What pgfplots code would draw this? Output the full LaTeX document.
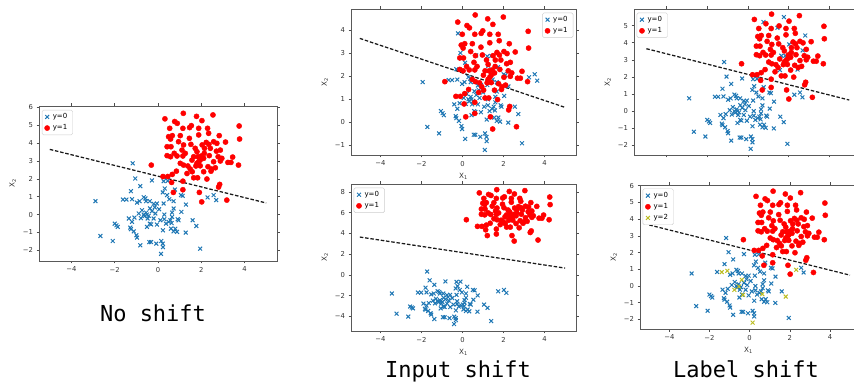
\documentclass[border=0pt]{standalone}
\usepackage{fontspec}
\setmainfont{DejaVu Sans}
\newfontfamily\monofont{DejaVu Sans Mono}
\usepackage{pgfplots}
\pgfplotsset{compat=1.18}
\definecolor{cblue}{RGB}{31,119,180}
\definecolor{colive}{RGB}{188,189,34}
\pgfplotsset{
  base/.style={
    scale only axis,
    axis line style={black!65, line width=0.7pt},
    tick align=outside,
    major tick length=2.5pt,
    tick style={black!70, line width=0.5pt},
    ticklabel style={font=\fontsize{6.8}{7}\selectfont, text=black!80},
    label style={font=\fontsize{7.2}{8}\selectfont, text=black!80},
    xtick={-4,-2,0,2,4},
    xticklabels={−4,−2,0,2,4},
    legend style={font=\fontsize{7}{8}\selectfont, draw=black!20, rounded corners=1.5pt, inner xsep=2.5pt, inner ysep=1.5pt, row sep=0.5pt, nodes={inner xsep=3pt}},
    legend cell align=left,
  },
  c0/.style={only marks, mark=x, mark size=2.7pt, cblue, line width=1pt},
  c1/.style={only marks, mark=*, mark size=2.6pt, red, draw=red},
  c2/.style={only marks, mark=x, mark size=2.7pt, colive, line width=1pt},
  dline/.style={black!90, line width=1.25pt, dash pattern=on 3.5pt off 1.8pt, forget plot},
}
\begin{document}
\begin{tikzpicture}
\path[use as bounding box] (0,0) rectangle (854pt,385pt);

% ---------- No shift ----------
\begin{axis}[base, at={(39pt,279pt)}, anchor=north west, width=238pt, height=155pt,
  xmin=-5.5, xmax=5.5, ymin=-2.6, ymax=6.08,
  ytick={-2,-1,0,1,2,3,4,5,6}, yticklabels={−2,−1,0,1,2,3,4,5,6},
  ylabel={X\textsubscript{2}},
  legend style={at={(0.012,0.975)}, anchor=north west}]
\addplot[c0] coordinates {(-2.89,0.75)(-2.66,-1.20)(-2.09,-1.48)(-2.00,-0.51)(-1.92,-0.60)(-1.86,-0.69)(-1.17,2.87)(-1.05,2.02)(-0.82,1.59)(-1.25,1.31)(-1.20,0.86)(-1.62,0.84)(-1.46,0.84)(-0.97,0.67)(-0.85,0.75)(-0.66,0.97)(-0.58,0.90)(-0.55,0.75)(-0.38,0.75)(-0.28,1.91)(-0.20,0.60)(-0.05,0.62)(0.22,1.24)(0.31,1.46)(0.26,0.62)(0.42,1.09)(0.52,0.86)(0.72,0.75)(0.78,1.40)(1.06,1.09)(1.14,1.05)(1.29,0.56)(0.26,1.87)(0.45,1.89)(2.29,0.96)(2.57,1.09)(2.69,0.81)(-1.35,-0.22)(-1.20,-0.41)(-1.28,-0.73)(-1.25,-0.82)(-1.12,-0.94)(-1.00,-1.16)(-0.97,-1.29)(-0.82,-1.72)(-1.09,-0.17)(-0.89,0.06)(-0.74,0.24)(-0.79,-0.20)(-0.66,0.00)(-0.62,-0.09)(-0.55,0.11)(-0.51,0.00)(-0.43,-0.07)(-0.37,0.35)(-0.28,0.19)(-0.48,-0.22)(-0.38,-0.51)(-0.51,-0.69)(-0.32,-0.55)(-0.12,0.06)(-0.05,-0.56)(-0.40,-1.54)(-0.32,-1.54)(-0.08,-1.63)(0.15,-1.48)(0.22,-1.63)(0.23,-1.82)(0.14,-2.20)(0.11,-0.32)(0.23,-0.88)(0.29,0.00)(0.29,-0.26)(0.37,-0.51)(0.63,-0.48)(0.60,-0.79)(0.57,-0.32)(0.65,0.11)(0.65,-0.13)(0.72,-0.94)(0.80,-0.79)(0.88,-0.97)(0.91,-0.26)(0.95,-0.32)(1.08,0.15)(0.72,0.34)(1.28,-1.01)(1.60,-0.32)(1.77,-0.64)(1.95,-1.91)(-0.20,-0.22)(0.49,-0.41)(-0.15,0.40)(0.05,0.30)};
\addlegendentry{y=0}
\addplot[c1] coordinates {(1.17,5.67)(2.54,5.58)(0.32,5.36)(0.77,5.21)(0.89,5.11)(1.54,4.98)(1.46,4.87)(1.78,5.50)(2.03,5.26)(1.15,4.83)(3.75,4.96)(3.77,4.23)(0.54,4.83)(0.49,4.36)(0.66,4.42)(0.58,4.23)(1.03,4.42)(1.45,4.27)(1.88,4.83)(1.88,4.46)(2.29,4.83)(2.34,4.55)(2.83,4.42)(2.23,4.04)(2.35,3.93)(2.57,4.08)(2.72,3.99)(3.12,4.06)(0.42,3.80)(0.60,3.80)(1.18,3.90)(1.52,3.93)(2.04,3.90)(2.15,3.71)(2.42,3.71)(2.70,3.55)(2.88,3.61)(1.11,3.61)(0.75,3.43)(0.42,3.30)(0.58,3.24)(0.88,3.28)(1.15,3.28)(1.65,3.24)(1.85,3.24)(1.95,3.05)(2.00,3.28)(1.80,2.87)(1.88,2.96)(2.11,3.15)(2.37,3.30)(2.78,3.24)(2.95,3.15)(2.88,3.00)(3.45,3.22)(3.37,2.92)(3.23,2.92)(3.72,2.77)(-0.31,2.77)(1.03,2.87)(1.18,2.77)(1.38,2.72)(1.49,2.55)(1.58,2.40)(1.75,2.72)(1.95,2.73)(2.31,2.68)(2.48,2.55)(2.65,2.62)(2.45,2.43)(0.85,2.43)(0.66,2.25)(0.45,2.13)(0.23,2.13)(1.65,2.06)(1.83,2.06)(2.26,1.99)(2.85,1.69)(2.80,1.54)(1.15,1.87)(0.63,1.80)(1.15,1.39)(0.71,1.24)(1.91,1.24)(2.02,0.71)(3.18,0.81)(1.26,3.43)(2.14,3.43)(1.72,3.71)(1.34,2.30)(2.11,2.40)(1.80,3.52)(2.57,2.96)(1.57,3.05)(0.95,4.08)};
\addlegendentry{y=1}
\addplot[dline] coordinates {(-5,3.65)(5,0.65)};
\end{axis}

% ---------- Input shift (top) ----------
\begin{axis}[base, at={(351pt,376pt)}, anchor=north west, width=225pt, height=146pt,
  xmin=-5.43, xmax=5.53, ymin=-1.42, ymax=4.93,
  ytick={-1,0,1,2,3,4}, yticklabels={−1,0,1,2,3,4},
  xlabel={X\textsubscript{1}}, ylabel={X\textsubscript{2}},
  legend style={at={(0.988,0.975)}, anchor=north east}]
\addplot[c0] coordinates {(-1.94,1.75)(-1.71,-0.20)(-1.14,-0.48)(-1.05,0.49)(-0.97,0.40)(-0.91,0.31)(-0.22,3.87)(-0.10,3.02)(0.13,2.59)(-0.30,2.31)(-0.25,1.86)(-0.67,1.84)(-0.51,1.84)(-0.02,1.67)(0.10,1.75)(0.29,1.97)(0.37,1.90)(0.40,1.75)(0.57,1.75)(0.67,2.91)(0.75,1.60)(0.90,1.62)(1.17,2.24)(1.26,2.46)(1.21,1.62)(1.37,2.09)(1.47,1.86)(1.67,1.75)(1.73,2.40)(2.01,2.09)(2.09,2.05)(2.24,1.56)(1.21,2.87)(1.40,2.89)(3.24,1.96)(3.52,2.09)(3.64,1.81)(-0.40,0.78)(-0.25,0.59)(-0.33,0.27)(-0.30,0.18)(-0.17,0.06)(-0.05,-0.16)(-0.02,-0.29)(0.13,-0.72)(-0.14,0.83)(0.06,1.06)(0.21,1.24)(0.16,0.80)(0.29,1.00)(0.33,0.91)(0.40,1.11)(0.44,1.00)(0.52,0.93)(0.58,1.35)(0.67,1.19)(0.47,0.78)(0.57,0.49)(0.44,0.31)(0.63,0.45)(0.83,1.06)(0.90,0.44)(0.55,-0.54)(0.63,-0.54)(0.87,-0.63)(1.10,-0.48)(1.17,-0.63)(1.18,-0.82)(1.09,-1.20)(1.06,0.68)(1.18,0.12)(1.24,1.00)(1.24,0.74)(1.32,0.49)(1.58,0.52)(1.55,0.21)(1.52,0.68)(1.60,1.11)(1.60,0.87)(1.67,0.06)(1.75,0.21)(1.83,0.03)(1.86,0.74)(1.90,0.68)(2.03,1.15)(1.67,1.34)(2.23,-0.01)(2.55,0.68)(2.72,0.36)(2.90,-0.91)(0.75,0.78)(1.44,0.59)(0.80,1.40)(1.00,1.30)};
\addlegendentry{y=0}
\addplot[c1] coordinates {(0.62,4.67)(1.99,4.58)(-0.23,4.36)(0.22,4.21)(0.34,4.11)(0.99,3.98)(0.91,3.87)(1.23,4.50)(1.48,4.26)(0.60,3.83)(3.20,3.96)(3.22,3.23)(-0.01,3.83)(-0.06,3.36)(0.11,3.42)(0.03,3.23)(0.48,3.42)(0.90,3.27)(1.33,3.83)(1.33,3.46)(1.74,3.83)(1.79,3.55)(2.28,3.42)(1.68,3.04)(1.80,2.93)(2.02,3.08)(2.17,2.99)(2.57,3.06)(-0.13,2.80)(0.05,2.80)(0.63,2.90)(0.97,2.93)(1.49,2.90)(1.60,2.71)(1.87,2.71)(2.15,2.55)(2.33,2.61)(0.56,2.61)(0.20,2.43)(-0.13,2.30)(0.03,2.24)(0.33,2.28)(0.60,2.28)(1.10,2.24)(1.30,2.24)(1.40,2.05)(1.45,2.28)(1.25,1.87)(1.33,1.96)(1.56,2.15)(1.82,2.30)(2.23,2.24)(2.40,2.15)(2.33,2.00)(2.90,2.22)(2.82,1.92)(2.68,1.92)(3.17,1.77)(-0.86,1.77)(0.48,1.87)(0.63,1.77)(0.83,1.72)(0.94,1.55)(1.03,1.40)(1.20,1.72)(1.40,1.73)(1.76,1.68)(1.93,1.55)(2.10,1.62)(1.90,1.43)(0.30,1.43)(0.11,1.25)(-0.10,1.13)(-0.32,1.13)(1.10,1.06)(1.28,1.06)(1.71,0.99)(2.30,0.69)(2.25,0.54)(0.60,0.87)(0.08,0.80)(0.60,0.39)(0.16,0.24)(1.36,0.24)(1.47,-0.29)(2.63,-0.19)(0.71,2.43)(1.59,2.43)(1.17,2.71)(0.79,1.30)(1.56,1.40)(1.25,2.52)(2.02,1.96)(1.02,2.05)(0.40,3.08)};
\addlegendentry{y=1}
\addplot[dline] coordinates {(-5,3.65)(5,0.65)};
\end{axis}

% ---------- Input shift (bottom) ----------
\begin{axis}[base, at={(351pt,201pt)}, anchor=north west, width=225pt, height=147pt,
  xmin=-5.43, xmax=5.53, ymin=-5.42, ymax=8.77,
  ytick={-4,-2,0,2,4,6,8}, yticklabels={−4,−2,0,2,4,6,8},
  xlabel={X\textsubscript{1}}, ylabel={X\textsubscript{2}},
  legend style={at={(0.012,0.975)}, anchor=north west}]
\addplot[c0] coordinates {(-3.44,-1.80)(-3.21,-3.75)(-2.64,-4.03)(-2.55,-3.06)(-2.47,-3.15)(-2.41,-3.24)(-1.72,0.32)(-1.60,-0.53)(-1.37,-0.96)(-1.80,-1.24)(-1.75,-1.69)(-2.17,-1.71)(-2.01,-1.71)(-1.52,-1.88)(-1.40,-1.80)(-1.21,-1.58)(-1.13,-1.65)(-1.10,-1.80)(-0.93,-1.80)(-0.83,-0.64)(-0.75,-1.95)(-0.60,-1.93)(-0.33,-1.31)(-0.24,-1.09)(-0.29,-1.93)(-0.13,-1.46)(-0.03,-1.69)(0.17,-1.80)(0.23,-1.15)(0.51,-1.46)(0.59,-1.50)(0.74,-1.99)(-0.29,-0.68)(-0.10,-0.66)(1.74,-1.59)(2.02,-1.46)(2.14,-1.74)(-1.90,-2.77)(-1.75,-2.96)(-1.83,-3.28)(-1.80,-3.37)(-1.67,-3.49)(-1.55,-3.71)(-1.52,-3.84)(-1.37,-4.27)(-1.64,-2.72)(-1.44,-2.49)(-1.29,-2.31)(-1.34,-2.75)(-1.21,-2.55)(-1.17,-2.64)(-1.10,-2.44)(-1.06,-2.55)(-0.98,-2.62)(-0.92,-2.20)(-0.83,-2.36)(-1.03,-2.77)(-0.93,-3.06)(-1.06,-3.24)(-0.87,-3.10)(-0.67,-2.49)(-0.60,-3.11)(-0.95,-4.09)(-0.87,-4.09)(-0.63,-4.18)(-0.40,-4.03)(-0.33,-4.18)(-0.32,-4.37)(-0.41,-4.75)(-0.44,-2.87)(-0.32,-3.43)(-0.26,-2.55)(-0.26,-2.81)(-0.18,-3.06)(0.08,-3.03)(0.05,-3.34)(0.02,-2.87)(0.10,-2.44)(0.10,-2.68)(0.17,-3.49)(0.25,-3.34)(0.33,-3.52)(0.36,-2.81)(0.40,-2.87)(0.53,-2.40)(0.17,-2.21)(0.73,-3.56)(1.05,-2.87)(1.22,-3.19)(1.40,-4.46)(-0.75,-2.77)(-0.06,-2.96)(-0.70,-2.15)(-0.50,-2.25)};
\addlegendentry{y=0}
\addplot[c1] coordinates {(1.67,8.22)(3.04,8.13)(0.82,7.91)(1.27,7.76)(1.39,7.66)(2.04,7.53)(1.96,7.42)(2.28,8.05)(2.53,7.81)(1.65,7.38)(4.25,7.51)(4.27,6.78)(1.04,7.38)(0.99,6.91)(1.16,6.97)(1.08,6.78)(1.53,6.97)(1.95,6.82)(2.38,7.38)(2.38,7.01)(2.79,7.38)(2.84,7.10)(3.33,6.97)(2.73,6.59)(2.85,6.48)(3.07,6.63)(3.22,6.54)(3.62,6.61)(0.92,6.35)(1.10,6.35)(1.68,6.45)(2.02,6.48)(2.54,6.45)(2.65,6.26)(2.92,6.26)(3.20,6.10)(3.38,6.16)(1.61,6.16)(1.25,5.98)(0.92,5.85)(1.08,5.79)(1.38,5.83)(1.65,5.83)(2.15,5.79)(2.35,5.79)(2.45,5.60)(2.50,5.83)(2.30,5.42)(2.38,5.51)(2.61,5.70)(2.87,5.85)(3.28,5.79)(3.45,5.70)(3.38,5.55)(3.95,5.77)(3.87,5.47)(3.73,5.47)(4.22,5.32)(0.19,5.32)(1.53,5.42)(1.68,5.32)(1.88,5.27)(1.99,5.10)(2.08,4.95)(2.25,5.27)(2.45,5.28)(2.81,5.23)(2.98,5.10)(3.15,5.17)(2.95,4.98)(1.35,4.98)(1.16,4.80)(0.95,4.68)(0.73,4.68)(2.15,4.61)(2.33,4.61)(2.76,4.54)(3.35,4.24)(3.30,4.09)(1.65,4.42)(1.13,4.35)(1.65,3.94)(1.21,3.79)(2.41,3.79)(2.52,3.26)(3.68,3.36)(1.76,5.98)(2.64,5.98)(2.22,6.26)(1.84,4.85)(2.61,4.95)(2.30,6.07)(3.07,5.51)(2.07,5.60)(1.45,6.63)};
\addlegendentry{y=1}
\addplot[dline] coordinates {(-5,3.65)(5,0.65)};
\end{axis}

% ---------- Label shift (top) ----------
\begin{axis}[base, at={(634pt,376pt)}, anchor=north west, width=223pt, height=146pt,
  xmin=-5.61, xmax=5.38, ymin=-2.56, ymax=5.97,
  xticklabels={}, 
  ytick={-2,-1,0,1,2,3,4,5}, yticklabels={−2,−1,0,1,2,3,4,5},
  ylabel={X\textsubscript{2}},
  legend style={at={(0.012,0.975)}, anchor=north west}]
\addplot[c0] coordinates {(-2.89,0.75)(-2.66,-1.20)(-2.09,-1.48)(-2.00,-0.51)(-1.92,-0.60)(-1.86,-0.69)(-1.17,2.87)(-1.05,2.02)(-0.82,1.59)(-1.25,1.31)(-1.20,0.86)(-1.62,0.84)(-1.46,0.84)(-0.97,0.67)(-0.85,0.75)(-0.66,0.97)(-0.58,0.90)(-0.55,0.75)(-0.38,0.75)(-0.28,1.91)(-0.20,0.60)(-0.05,0.62)(0.22,1.24)(0.31,1.46)(0.26,0.62)(0.42,1.09)(0.52,0.86)(0.72,0.75)(0.78,1.40)(1.06,1.09)(1.14,1.05)(1.29,0.56)(0.26,1.87)(0.45,1.89)(2.29,0.96)(2.57,1.09)(2.69,0.81)(-1.35,-0.22)(-1.20,-0.41)(-1.28,-0.73)(-1.25,-0.82)(-1.12,-0.94)(-1.00,-1.16)(-0.97,-1.29)(-0.82,-1.72)(-1.09,-0.17)(-0.89,0.06)(-0.74,0.24)(-0.79,-0.20)(-0.66,0.00)(-0.62,-0.09)(-0.55,0.11)(-0.51,0.00)(-0.43,-0.07)(-0.37,0.35)(-0.28,0.19)(-0.48,-0.22)(-0.38,-0.51)(-0.51,-0.69)(-0.32,-0.55)(-0.12,0.06)(-0.05,-0.56)(-0.40,-1.54)(-0.32,-1.54)(-0.08,-1.63)(0.15,-1.48)(0.22,-1.63)(0.23,-1.82)(0.14,-2.20)(0.11,-0.32)(0.23,-0.88)(0.29,0.00)(0.29,-0.26)(0.37,-0.51)(0.63,-0.48)(0.60,-0.79)(0.57,-0.32)(0.65,0.11)(0.65,-0.13)(0.72,-0.94)(0.80,-0.79)(0.88,-0.97)(0.91,-0.26)(0.95,-0.32)(1.08,0.15)(0.72,0.34)(1.28,-1.01)(1.60,-0.32)(1.77,-0.64)(1.95,-1.91)(-0.20,-0.22)(0.49,-0.41)(-0.15,0.40)(0.05,0.30)(0.77,5.21)(1.46,4.87)(1.78,5.50)(2.83,4.42)(2.04,3.90)(2.70,3.55)(1.65,3.24)(1.85,3.24)(1.58,2.40)(2.45,2.43)};
\addlegendentry{y=0}
\addplot[c1] coordinates {(1.17,5.67)(2.54,5.58)(0.32,5.36)(0.89,5.11)(1.54,4.98)(2.03,5.26)(1.15,4.83)(3.75,4.96)(3.77,4.23)(0.54,4.83)(0.49,4.36)(0.66,4.42)(0.58,4.23)(1.03,4.42)(1.45,4.27)(1.88,4.83)(1.88,4.46)(2.29,4.83)(2.34,4.55)(2.23,4.04)(2.35,3.93)(2.57,4.08)(2.72,3.99)(3.12,4.06)(0.42,3.80)(0.60,3.80)(1.18,3.90)(1.52,3.93)(2.15,3.71)(2.42,3.71)(2.88,3.61)(1.11,3.61)(0.75,3.43)(0.42,3.30)(0.58,3.24)(0.88,3.28)(1.15,3.28)(1.95,3.05)(2.00,3.28)(1.80,2.87)(1.88,2.96)(2.11,3.15)(2.37,3.30)(2.78,3.24)(2.95,3.15)(2.88,3.00)(3.45,3.22)(3.37,2.92)(3.23,2.92)(3.72,2.77)(-0.31,2.77)(1.03,2.87)(1.18,2.77)(1.38,2.72)(1.49,2.55)(1.75,2.72)(1.95,2.73)(2.31,2.68)(2.48,2.55)(2.65,2.62)(0.85,2.43)(0.66,2.25)(0.45,2.13)(0.23,2.13)(1.65,2.06)(1.83,2.06)(2.26,1.99)(2.85,1.69)(2.80,1.54)(1.15,1.87)(0.63,1.80)(1.15,1.39)(0.71,1.24)(1.91,1.24)(2.02,0.71)(3.18,0.81)(1.26,3.43)(2.14,3.43)(1.72,3.71)(1.34,2.30)(2.11,2.40)(1.80,3.52)(2.57,2.96)(1.57,3.05)(0.95,4.08)};
\addlegendentry{y=1}
\addplot[dline] coordinates {(-5,3.65)(5,0.65)};
\end{axis}

% ---------- Label shift (bottom) ----------
\begin{axis}[base, at={(640pt,200pt)}, anchor=north west, width=217pt, height=144pt,
  xmin=-5.46, xmax=5.35, ymin=-2.57, ymax=6.04,
  ytick={-2,-1,0,1,2,3,4,5,6}, yticklabels={−2,−1,0,1,2,3,4,5,6},
  xlabel={X\textsubscript{1}}, ylabel={X\textsubscript{2}},
  legend style={at={(0.012,0.975)}, anchor=north west}]
\addplot[c0] coordinates {(-2.89,0.75)(-2.66,-1.20)(-2.09,-1.48)(-2.00,-0.51)(-1.92,-0.60)(-1.86,-0.69)(-1.17,2.87)(-1.05,2.02)(-0.82,1.59)(-1.25,1.31)(-1.62,0.84)(-0.97,0.67)(-0.85,0.75)(-0.66,0.97)(-0.58,0.90)(-0.55,0.75)(-0.38,0.75)(-0.28,1.91)(-0.20,0.60)(-0.05,0.62)(0.22,1.24)(0.31,1.46)(0.26,0.62)(0.42,1.09)(0.52,0.86)(0.72,0.75)(0.78,1.40)(1.06,1.09)(1.14,1.05)(1.29,0.56)(0.26,1.87)(0.45,1.89)(2.57,1.09)(2.69,0.81)(-1.35,-0.22)(-1.20,-0.41)(-1.28,-0.73)(-1.25,-0.82)(-1.12,-0.94)(-1.00,-1.16)(-0.97,-1.29)(-0.82,-1.72)(-1.09,-0.17)(-0.89,0.06)(-0.74,0.24)(-0.66,0.00)(-0.62,-0.09)(-0.55,0.11)(-0.43,-0.07)(-0.28,0.19)(-0.48,-0.22)(-0.38,-0.51)(-0.51,-0.69)(-0.12,0.06)(-0.05,-0.56)(-0.40,-1.54)(-0.32,-1.54)(-0.08,-1.63)(0.15,-1.48)(0.22,-1.63)(0.23,-1.82)(0.11,-0.32)(0.23,-0.88)(0.29,0.00)(0.29,-0.26)(0.37,-0.51)(0.60,-0.79)(0.57,-0.32)(0.65,0.11)(0.65,-0.13)(0.72,-0.94)(0.80,-0.79)(0.88,-0.97)(0.91,-0.26)(0.95,-0.32)(1.08,0.15)(0.72,0.34)(1.28,-1.01)(1.60,-0.32)(1.95,-1.91)(-0.20,-0.22)(0.49,-0.41)(-0.15,0.40)(0.05,0.30)};
\addlegendentry{y=0}
\addplot[c1] coordinates {(1.17,5.67)(2.54,5.58)(0.32,5.36)(0.77,5.21)(0.89,5.11)(1.54,4.98)(1.46,4.87)(1.78,5.50)(2.03,5.26)(1.15,4.83)(3.75,4.96)(3.77,4.23)(0.54,4.83)(0.49,4.36)(0.66,4.42)(0.58,4.23)(1.03,4.42)(1.45,4.27)(1.88,4.83)(1.88,4.46)(2.29,4.83)(2.34,4.55)(2.83,4.42)(2.23,4.04)(2.35,3.93)(2.57,4.08)(2.72,3.99)(3.12,4.06)(0.42,3.80)(0.60,3.80)(1.18,3.90)(1.52,3.93)(2.04,3.90)(2.15,3.71)(2.42,3.71)(2.70,3.55)(2.88,3.61)(1.11,3.61)(0.75,3.43)(0.42,3.30)(0.58,3.24)(0.88,3.28)(1.15,3.28)(1.65,3.24)(1.85,3.24)(1.95,3.05)(2.00,3.28)(1.80,2.87)(1.88,2.96)(2.11,3.15)(2.37,3.30)(2.78,3.24)(2.95,3.15)(2.88,3.00)(3.45,3.22)(3.37,2.92)(3.23,2.92)(3.72,2.77)(-0.31,2.77)(1.03,2.87)(1.18,2.77)(1.38,2.72)(1.49,2.55)(1.58,2.40)(1.75,2.72)(1.95,2.73)(2.31,2.68)(2.48,2.55)(2.65,2.62)(2.45,2.43)(0.85,2.43)(0.66,2.25)(0.45,2.13)(0.23,2.13)(1.65,2.06)(1.83,2.06)(2.26,1.99)(2.85,1.69)(2.80,1.54)(1.15,1.87)(0.63,1.80)(1.15,1.39)(0.71,1.24)(1.91,1.24)(2.02,0.71)(3.18,0.81)(1.26,3.43)(2.14,3.43)(1.72,3.71)(1.34,2.30)(2.11,2.40)(1.80,3.52)(2.57,2.96)(1.57,3.05)(0.95,4.08)};
\addlegendentry{y=1}
\addplot[c2] coordinates {(-1.39,0.83)(-1.11,0.91)(2.32,0.97)(-0.76,-0.23)(-0.53,-0.03)(-0.39,0.37)(-0.33,-0.53)(0.15,-2.19)(0.63,-0.49)(1.80,-0.63)};
\addlegendentry{y=2}
\addplot[dline] coordinates {(-5,3.65)(5,0.65)};
\end{axis}

% ---------- captions ----------
\node[font=\monofont\fontsize{22}{24}\selectfont, anchor=base] at (153pt,63pt) {No shift};
\node[font=\monofont\fontsize{22}{24}\selectfont, anchor=base] at (458pt,7pt) {Input shift};
\node[font=\monofont\fontsize{22}{24}\selectfont, anchor=base] at (746pt,7pt) {Label shift};
\end{tikzpicture}
\end{document}
